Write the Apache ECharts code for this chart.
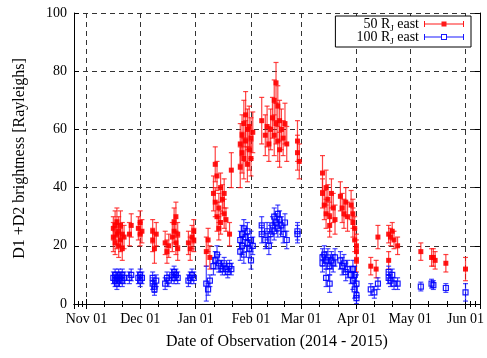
<!DOCTYPE html>
<html><head><meta charset="utf-8">
<script src="https://cdn.jsdelivr.net/npm/echarts@6/dist/echarts.min.js"></script>
<style>html,body{margin:0;padding:0;background:#fff}#c{width:487px;height:358px}</style>
</head><body><div id="c"></div>
<script>
// [date, brightness (R), error (R)]
const redPoints = [
['2014-11-16',23,5],['2014-11-16',26,4],['2014-11-17',27,5],['2014-11-17',21,4],['2014-11-18',24,5],['2014-11-18',28,5],['2014-11-19',20,4],['2014-11-19',25,5],['2014-11-20',22,4],['2014-11-20',27,5],['2014-11-21',19,4],['2014-11-21',24,4],['2014-11-22',23,4],
['2014-11-25',24,4],['2014-11-26',27,4],
['2014-11-30',26,4],['2014-12-01',28,4],['2014-12-01',24,4],['2014-12-02',25,4],
['2014-12-08',22,4],['2014-12-08',25,4],['2014-12-09',19,5],['2014-12-10',24,4],
['2014-12-15',21,4],['2014-12-16',18,4],['2014-12-17',20,4],
['2014-12-19',23,5],['2014-12-20',28,5],['2014-12-20',25,4],['2014-12-21',30,5],['2014-12-21',21,4],['2014-12-22',19,4],['2014-12-22',24,4],
['2014-12-28',21,4],['2014-12-29',19,4],['2014-12-30',23,4],['2014-12-31',25,4],['2014-12-31',22,4],
['2015-01-07',18,5],['2015-01-08',22,4],['2015-01-09',16,4],
['2015-01-11',38,6],['2015-01-12',48,6],['2015-01-12',35,5],['2015-01-13',44,5],['2015-01-13',30,5],['2015-01-14',26,4],['2015-01-14',33,5],['2015-01-15',40,5],['2015-01-15',28,4],['2015-01-16',36,5],['2015-01-17',31,5],['2015-01-17',38,5],['2015-01-18',29,4],['2015-01-20',24,4],['2015-01-21',46,6],
['2015-01-26',47,7],['2015-01-26',55,7],['2015-01-27',58,7],['2015-01-27',52,7],['2015-01-28',62,8],['2015-01-28',50,7],['2015-01-29',65,8],['2015-01-29',56,7],['2015-01-30',60,7],['2015-01-30',48,6],['2015-01-31',53,7],['2015-01-31',61,7],['2015-02-01',57,7],['2015-02-01',50,6],['2015-02-02',59,7],
['2015-02-07',63,8],
['2015-02-09',58,7],['2015-02-10',61,7],['2015-02-11',55,6],['2015-02-12',60,7],
['2015-02-13',64,7],['2015-02-14',70,7],['2015-02-14',58,7],['2015-02-15',76,7],['2015-02-15',62,7],['2015-02-16',68,7],['2015-02-16',56,7],['2015-02-17',63,7],['2015-02-17',53,6],['2015-02-18',60,7],['2015-02-19',57,6],['2015-02-20',62,7],['2015-02-21',55,6],
['2015-02-27',56,7],['2015-02-27',52,6],['2015-02-28',49,6],
['2015-03-13',45,6],['2015-03-13',38,5],['2015-03-14',34,5],['2015-03-15',31,5],['2015-03-15',40,6],['2015-03-16',36,5],['2015-03-17',30,5],['2015-03-17',27,4],['2015-03-18',38,5],['2015-03-19',33,5],['2015-03-20',29,5],
['2015-03-23',37,5],['2015-03-24',33,5],['2015-03-25',31,5],['2015-03-26',35,5],['2015-03-27',30,5],
['2015-03-29',34,5],['2015-03-30',31,5],['2015-03-30',28,5],['2015-03-31',26,4],['2015-03-31',22,4],['2015-04-01',20,4],['2015-04-01',18,4],['2015-04-01',15,4],
['2015-04-09',13,3],['2015-04-12',12,3],['2015-04-13',23,4],
['2015-04-19',24,3],['2015-04-19',15,3],['2015-04-20',23,3],['2015-04-21',25,3],['2015-04-22',22,3],['2015-04-24',20,3],
['2015-05-07',18,3],['2015-05-13',16,3],['2015-05-14',16,3],['2015-05-15',15,3],['2015-05-21',14,3],['2015-06-01',12,4]
];
const bluePoints = [
['2014-11-16',9,2],['2014-11-17',8,2],['2014-11-17',10,2],['2014-11-18',7,2],['2014-11-18',9,2],['2014-11-19',10,2],['2014-11-19',8,2],['2014-11-20',9,2],['2014-11-21',8,2],['2014-11-21',10,2],['2014-11-22',9,2],
['2014-11-25',9,2],['2014-11-26',10,2],
['2014-11-30',9,2],['2014-12-01',10,2],['2014-12-01',8,2],['2014-12-02',9,2],
['2014-12-08',7,2],['2014-12-08',9,2],['2014-12-09',6,2],['2014-12-09',5,2],['2014-12-10',8,2],
['2014-12-15',7,2],['2014-12-16',9,2],['2014-12-17',8,2],
['2014-12-19',10,2],['2014-12-20',11,2],['2014-12-20',9,2],['2014-12-21',10,2],['2014-12-22',9,2],
['2014-12-28',8,2],['2014-12-29',9,2],['2014-12-30',10,2],['2014-12-31',9,2],
['2015-01-07',7,6],['2015-01-08',5,2],['2015-01-09',8,2],
['2015-01-11',13,3],['2015-01-12',15,3],['2015-01-13',17,3],['2015-01-14',14,3],['2015-01-15',13,2],['2015-01-16',12,2],['2015-01-17',14,2],['2015-01-18',12,2],['2015-01-19',11,2],['2015-01-20',13,2],['2015-01-21',12,2],
['2015-01-26',18,3],['2015-01-26',22,3],['2015-01-27',24,3],['2015-01-27',20,3],['2015-01-28',26,3],['2015-01-28',17,3],['2015-01-29',23,3],['2015-01-30',21,3],['2015-01-30',25,3],['2015-01-31',19,3],['2015-02-01',22,3],['2015-02-01',15,3],['2015-02-02',20,3],
['2015-02-07',24,3],['2015-02-07',27,3],
['2015-02-09',22,3],['2015-02-10',25,3],['2015-02-11',20,3],['2015-02-12',24,3],
['2015-02-13',27,3],['2015-02-14',30,3],['2015-02-14',25,3],['2015-02-15',28,3],['2015-02-16',31,3],['2015-02-16',26,3],['2015-02-17',29,3],['2015-02-18',27,3],['2015-02-19',24,3],['2015-02-20',28,3],['2015-02-21',22,3],
['2015-02-27',25,3],['2015-02-27',24,3],
['2015-03-13',16,3],['2015-03-13',14,3],['2015-03-14',17,3],['2015-03-15',15,3],['2015-03-15',9,3],['2015-03-16',16,3],['2015-03-17',13,3],['2015-03-17',7,3],['2015-03-18',15,3],['2015-03-19',14,3],['2015-03-20',16,3],
['2015-03-23',15,3],['2015-03-24',13,3],['2015-03-25',14,3],['2015-03-26',11,3],['2015-03-27',12,3],
['2015-03-29',10,3],['2015-03-30',12,3],['2015-03-30',8,3],['2015-03-31',5,3],['2015-03-31',10,3],['2015-04-01',3,3],['2015-04-01',7,3],['2015-04-01',2,2],
['2015-04-09',5,2],['2015-04-11',4,2],['2015-04-13',7,2],
['2015-04-19',11,2],['2015-04-19',9,2],['2015-04-20',8,2],['2015-04-21',10,2],['2015-04-22',7,2],['2015-04-24',7,2],
['2015-05-07',6,1.5],['2015-05-13',7,1.5],['2015-05-14',6.5,1.5],['2015-05-21',5.5,1.5],['2015-06-01',4,3]
];
const seriesNames = ['50 RJ east', '100 RJ east'];
const xMin = '2014-10-25', xMax = '2015-06-09';
const yTicks = [0, 20, 40, 60, 80, 100];

const FONT = 'Liberation Serif';
const chart = echarts.init(document.getElementById('c'), null, {renderer: 'canvas'});

function errRender(color) {
  return function (params, api) {
    const x = api.value(0), y = api.value(1), e = api.value(2);
    const top = api.coord([x, y + e]);
    const bot = api.coord([x, y - e]);
    const cw = 2.5;
    const st = {stroke: color, lineWidth: 1.2};
    return {type: 'group', children: [
      {type: 'line', shape: {x1: top[0], y1: top[1], x2: bot[0], y2: bot[1]}, style: st},
      {type: 'line', shape: {x1: top[0]-cw, y1: top[1], x2: top[0]+cw, y2: top[1]}, style: st},
      {type: 'line', shape: {x1: bot[0]-cw, y1: bot[1], x2: bot[0]+cw, y2: bot[1]}, style: st}
    ]};
  };
}

const redIcon = 'path://M0,3.5H40V4.5H0Z M0,1H1V7H0Z M39,1H40V7H39Z M17.5,1.5H22.5V6.5H17.5Z';
const blueIcon = 'path://M0,3.5H17V4.5H0Z M23,3.5H40V4.5H23Z M0,1H1V7H0Z M39,1H40V7H39Z M17,1H23V7H17Z M18,2V6H22V2Z';

const gridDash = {color: '#333', type: [5, 4], width: 1};
const xTimeAxis = {
  type: 'time', min: xMin, max: xMax, splitNumber: 8,
  minInterval: 28 * 86400000, maxInterval: 31 * 86400000
};

chart.setOption({
  animation: false,
  grid: {left: 74, right: 6, top: 13, bottom: 54, show: false},
  legend: {
    right: 16, top: 16, orient: 'vertical', align: 'right',
    itemWidth: 40, itemHeight: 8, itemGap: -3,
    padding: [1, 7, 1, 21],
    borderColor: '#000', borderWidth: 1, backgroundColor: '#fff',
    selectedMode: false,
    formatter: function (n) { const p = n.split('RJ'); return '{n|' + p[0] + 'R}{sub|J}{n|' + p[1] + '}'; },
    textStyle: {fontFamily: FONT, fontSize: 14, color: '#000',
      rich: {
        n: {fontFamily: FONT, fontSize: 14, color: '#000', lineHeight: 14, verticalAlign: 'top'},
        sub: {fontFamily: FONT, fontSize: 9, color: '#000', lineHeight: 9, verticalAlign: 'top', padding: [7, 0, 0, 0]}
      }},
    data: [
      {name: seriesNames[0], icon: redIcon, itemStyle: {color: '#ff0000', borderWidth: 0}},
      {name: seriesNames[1], icon: blueIcon, itemStyle: {color: '#0000ff', borderWidth: 0}}
    ]
  },
  xAxis: [
    Object.assign({}, xTimeAxis, {
      position: 'bottom',
      name: 'Date of Observation (2014 - 2015)', nameLocation: 'middle', nameGap: 30,
      nameTextStyle: {fontFamily: FONT, fontSize: 16, color: '#000'},
      axisLine: {show: true, lineStyle: {color: '#000', width: 1}},
      axisTick: {show: true, inside: true, length: 5, lineStyle: {color: '#000'}},
      minorTick: {show: true, splitNumber: 3, length: 3, lineStyle: {color: '#000'}},
      axisLabel: {fontFamily: FONT, fontSize: 14, color: '#000', margin: 8, formatter: '{MMM} {dd}', hideOverlap: false},
      splitLine: {show: true, lineStyle: gridDash}
    }),
    Object.assign({}, xTimeAxis, {
      position: 'top',
      axisLine: {show: true, lineStyle: {color: '#000', width: 1}},
      axisTick: {show: true, inside: true, length: 5, lineStyle: {color: '#000'}},
      minorTick: {show: true, splitNumber: 3, length: 3, lineStyle: {color: '#000'}},
      axisLabel: {show: false},
      splitLine: {show: false}
    })
  ],
  yAxis: [
    {
      type: 'value', min: yTicks[0], max: yTicks[yTicks.length - 1], interval: 20,
      name: 'D1 +D2 brightness [Rayleighs]', nameLocation: 'middle', nameGap: 46,
      nameTextStyle: {fontFamily: FONT, fontSize: 16, color: '#000'},
      axisLine: {show: true, lineStyle: {color: '#000', width: 1}},
      axisTick: {show: true, inside: true, length: 5, lineStyle: {color: '#000'}},
      axisLabel: {fontFamily: FONT, fontSize: 14, color: '#000', margin: 7},
      splitLine: {show: true, lineStyle: gridDash}
    },
    {
      type: 'value', min: yTicks[0], max: yTicks[yTicks.length - 1], interval: 20, position: 'right',
      axisLine: {show: true, lineStyle: {color: '#000', width: 1}},
      axisTick: {show: true, inside: true, length: 5, lineStyle: {color: '#000'}},
      axisLabel: {show: false}, splitLine: {show: false}
    }
  ],
  series: [
    {type: 'custom', name: 'redErr', renderItem: errRender('rgba(255,20,20,0.8)'), data: redPoints,
      encode: {x: 0, y: [1, 2]}, clip: true, z: 3, silent: true},
    {type: 'custom', name: 'blueErr', renderItem: errRender('rgba(20,20,255,0.8)'), data: bluePoints,
      encode: {x: 0, y: [1, 2]}, clip: true, z: 3, silent: true},
    {type: 'scatter', name: seriesNames[0], data: redPoints.map(p => [p[0], p[1]]),
      symbol: 'rect', symbolSize: 5, itemStyle: {color: '#ff0000', opacity: 0.9}, z: 4},
    {type: 'scatter', name: seriesNames[1], data: bluePoints.map(p => [p[0], p[1]]),
      symbol: 'rect', symbolSize: 5, itemStyle: {color: 'rgba(0,0,0,0)', borderColor: '#0000ff', borderWidth: 1.2, opacity: 0.9}, z: 4}
  ]
});
</script></body></html>
